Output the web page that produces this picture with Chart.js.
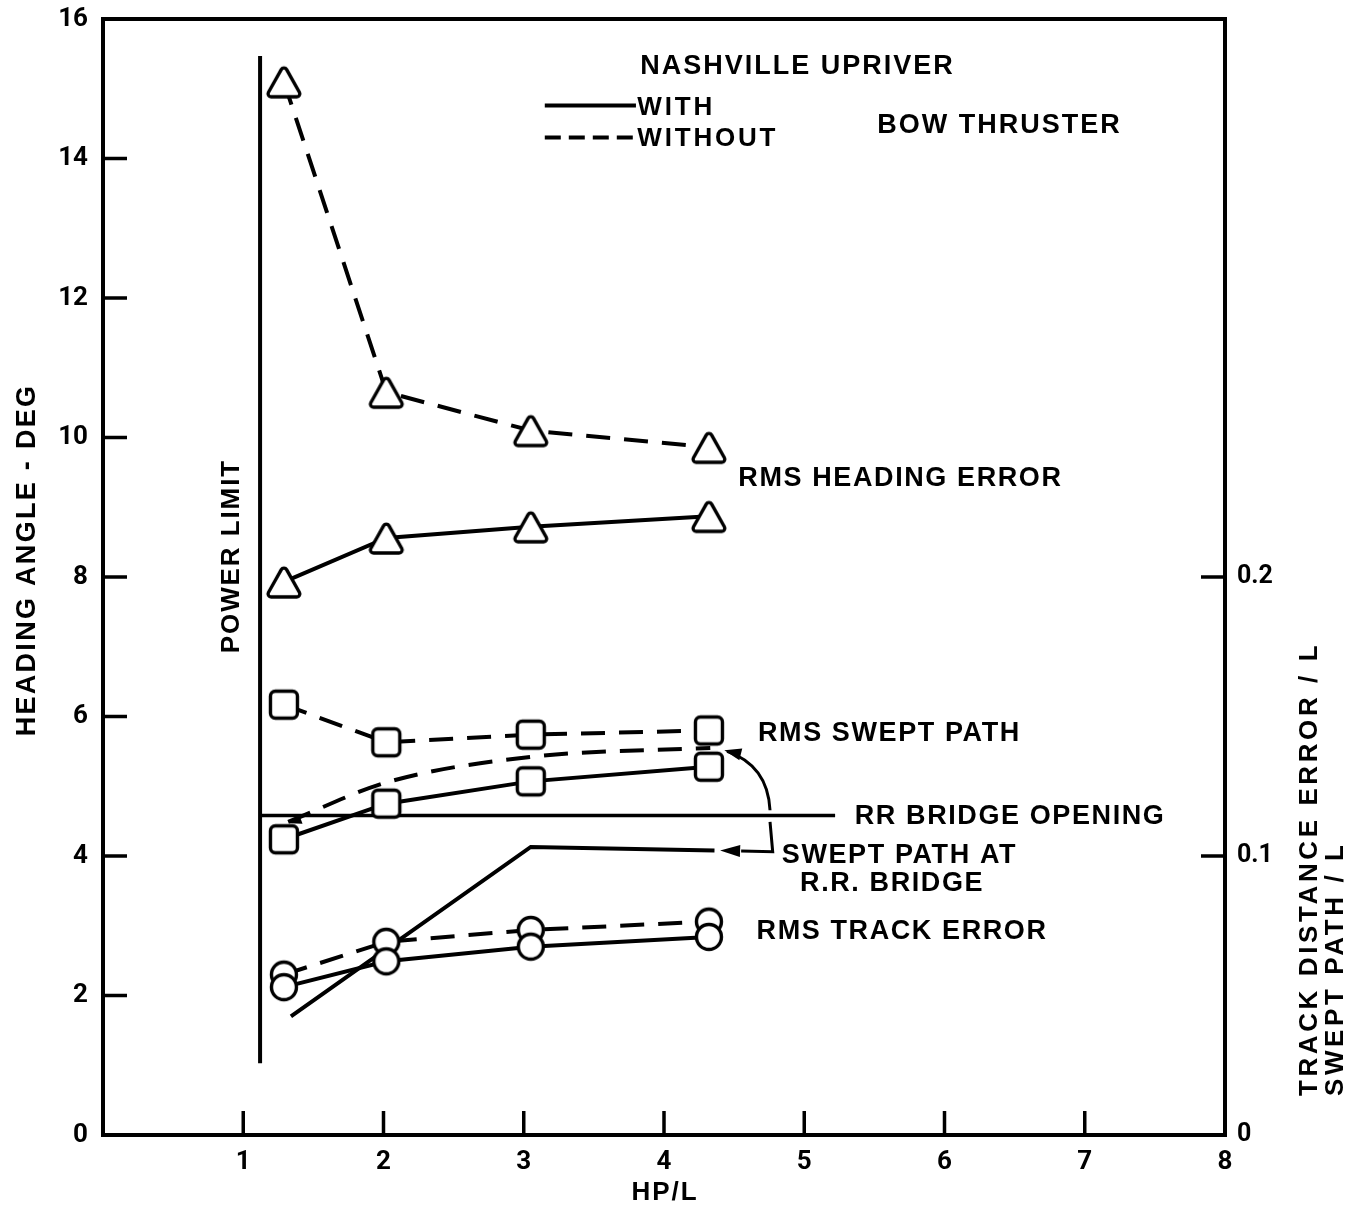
<!DOCTYPE html>
<html>
<head>
<meta charset="utf-8">
<script src="https://cdn.jsdelivr.net/npm/chart.js@4.4.1/dist/chart.umd.min.js"></script>
<style>
  html, body { margin: 0; padding: 0; background: #fff; }
  #wrap { width: 1368px; height: 1212px; }
</style>
</head>
<body>
<div id="wrap"><canvas id="c" width="1368" height="1212"></canvas></div>
<script>
// ---- values (HP/L on x, heading angle in deg on left axis) ----
const hpPerLength      = [1.29, 2.02, 3.05, 4.32];
const headingWith      = [7.93, 8.56, 8.72, 8.87];
const headingWithout   = [15.10, 10.65, 10.10, 9.86];
const sweptWith        = [4.24, 4.75, 5.07, 5.28];
const sweptWithout     = [6.17, 5.63, 5.74, 5.80];
const trackWith        = [2.12, 2.49, 2.70, 2.84];
const trackWithout     = [2.30, 2.77, 2.94, 3.06];
const bridgeWithX      = [1.34, 3.05, 4.36];
const bridgeWith       = [1.70, 4.13, 4.08];
const bridgeWithoutX   = [1.32, 2.03, 3.05, 4.33];
const bridgeWithout    = [4.49, 5.06, 5.42, 5.55];
const bridgeOpeningX   = [1.12, 5.22];
const bridgeOpening    = [4.58, 4.58];
const powerLimitX      = [1.12, 1.12];
const powerLimit       = [1.03, 15.47];

const xTickValues      = [1, 2, 3, 4, 5, 6, 7, 8];
const leftTickValues   = [0, 2, 4, 6, 8, 10, 12, 14, 16];
const rightTickValues  = [0, 0.1, 0.2];

const pts = (xs, ys) => xs.map((x, i) => ({ x, y: ys[i] }));

// ---- hollow markers ----
function roundedPoly(g, p, r) {
  const n = p.length;
  const m = [(p[n - 1][0] + p[0][0]) / 2, (p[n - 1][1] + p[0][1]) / 2];
  g.moveTo(m[0], m[1]);
  for (let i = 0; i < n; i++) {
    const a = p[i], b = p[(i + 1) % n];
    g.arcTo(a[0], a[1], b[0], b[1], r);
  }
  g.closePath();
}
function marker(kind) {
  const s = 44, c = document.createElement('canvas');
  c.width = s; c.height = s;
  const g = c.getContext('2d');
  g.lineWidth = 3.4; g.strokeStyle = '#000'; g.fillStyle = '#fff'; g.lineJoin = 'round';
  g.beginPath();
  if (kind === 'triangle') roundedPoly(g, [[22, 5], [40, 37], [4, 37]], 3);
  else if (kind === 'square') g.roundRect(8.5, 8.5, 27, 27, 5);
  else g.arc(22, 22, 12.5, 0, Math.PI * 2);
  g.fill(); g.stroke();
  return c;
}
const TRI = marker('triangle'), SQR = marker('square'), CIR = marker('circle');

const DASH = [24, 14];
function series(xs, ys, style, dashed, extra) {
  return Object.assign({
    data: pts(xs, ys),
    borderColor: '#000', backgroundColor: '#000', borderWidth: 4,
    borderDash: dashed ? DASH : [],
    pointStyle: style || 'circle',
    pointRadius: style ? 15 : 0,
    pointHoverRadius: style ? 15 : 0,
    tension: 0, fill: false, yAxisID: 'y'
  }, extra || {});
}

// ---- text and leader annotations (data units) ----
const BOLD = (s) => `bold ${s}px "Liberation Sans", Arial, sans-serif`;
const notes = [
  { t: 'NASHVILLE UPRIVER', x: 3.83, y: 15.32, f: BOLD(27), ls: 2 },
  { t: 'WITH',              x: 3.81, y: 14.73, f: BOLD(26), ls: 2.8 },
  { t: 'WITHOUT',           x: 3.81, y: 14.28, f: BOLD(26), ls: 2.8 },
  { t: 'BOW THRUSTER',      x: 5.52, y: 14.47, f: BOLD(27), ls: 2 },
  { t: 'RMS HEADING ERROR', x: 4.53, y: 9.41,  f: BOLD(27), ls: 1.6 },
  { t: 'RMS SWEPT PATH',    x: 4.67, y: 5.76,  f: BOLD(27), ls: 1.6 },
  { t: 'RR BRIDGE OPENING', x: 5.36, y: 4.56,  f: BOLD(27), ls: 1.6 },
  { t: 'SWEPT PATH AT',     x: 4.84, y: 4.01,  f: BOLD(27), ls: 1.6 },
  { t: 'R.R. BRIDGE',       x: 4.97, y: 3.61,  f: BOLD(27), ls: 1.6 },
  { t: 'RMS TRACK ERROR',   x: 4.66, y: 2.91,  f: BOLD(27), ls: 1.6 }
];
const legendKeys = [
  { x0: 3.15, x1: 3.80, y: 14.76, dash: [] },
  { x0: 3.15, x1: 3.80, y: 14.30, dash: [16, 8] }
];

function arrowHead(ctx, tx, ty, fx, fy, len, half) {
  const a = Math.atan2(ty - fy, tx - fx);
  ctx.beginPath();
  ctx.moveTo(tx, ty);
  ctx.lineTo(tx - len * Math.cos(a) + half * Math.sin(a), ty - len * Math.sin(a) - half * Math.cos(a));
  ctx.lineTo(tx - len * Math.cos(a) - half * Math.sin(a), ty - len * Math.sin(a) + half * Math.cos(a));
  ctx.closePath();
  ctx.fill();
}

const decor = {
  id: 'decor',
  afterDatasetsDraw(chart) {
    const { ctx, chartArea: a, scales } = chart;
    const X = (v) => scales.x.getPixelForValue(v);
    const Y = (v) => scales.y.getPixelForValue(v);
    const Y2 = (v) => scales.y2.getPixelForValue(v);
    ctx.save();
    ctx.strokeStyle = '#000'; ctx.fillStyle = '#000';
    ctx.lineCap = 'square';

    // frame
    ctx.lineWidth = 4;
    ctx.strokeRect(a.left, a.top, a.right - a.left, a.bottom - a.top);

    // inward tick marks
    ctx.lineWidth = 3.5; ctx.lineCap = 'butt';
    const TL = 24;
    ctx.beginPath();
    leftTickValues.filter(v => v > 0 && v < 16).forEach(v => { ctx.moveTo(a.left, Y(v)); ctx.lineTo(a.left + TL, Y(v)); });
    xTickValues.filter(v => v < 8).forEach(v => { ctx.moveTo(X(v), a.bottom); ctx.lineTo(X(v), a.bottom - TL); });
    rightTickValues.filter(v => v > 0).forEach(v => { ctx.moveTo(a.right, Y2(v)); ctx.lineTo(a.right - TL, Y2(v)); });
    ctx.stroke();

    // legend keys
    ctx.lineWidth = 4;
    legendKeys.forEach(k => {
      ctx.setLineDash(k.dash);
      ctx.beginPath(); ctx.moveTo(X(k.x0), Y(k.y)); ctx.lineTo(X(k.x1), Y(k.y)); ctx.stroke();
    });
    ctx.setLineDash([]);

    // leader from label to the dashed bridge curve
    ctx.lineWidth = 3;
    ctx.beginPath();
    ctx.moveTo(X(4.756), Y(4.656));
    ctx.quadraticCurveTo(X(4.74), Y(5.30), X(4.45), Y(5.50));
    ctx.stroke();
    arrowHead(ctx, X(4.43), Y(5.515), X(4.52), Y(5.47), 17, 6);
    // bracket leader to the solid bridge line
    ctx.beginPath();
    ctx.moveTo(X(4.756), Y(4.49));
    ctx.lineTo(X(4.775), Y(4.06));
    ctx.lineTo(X(4.55), Y(4.07));
    ctx.stroke();
    arrowHead(ctx, X(4.40), Y(4.08), X(4.55), Y(4.07), 20, 6);
    // small head at the start of the dashed bridge curve
    arrowHead(ctx, X(1.33), Y(4.47), X(1.45), Y(4.56), 12, 5);

    // annotations
    ctx.textBaseline = 'middle'; ctx.textAlign = 'left';
    notes.forEach(n => {
      ctx.font = n.f; ctx.letterSpacing = n.ls + 'px';
      ctx.fillText(n.t, X(n.x), Y(n.y));
    });

    // rotated labels
    const rot = (t, cx, cy, f, ls, align) => {
      ctx.save();
      ctx.translate(cx, cy); ctx.rotate(-Math.PI / 2);
      ctx.font = f; ctx.letterSpacing = ls + 'px'; ctx.textAlign = align || 'center';
      ctx.fillText(t, 0, 0);
      ctx.restore();
    };
    rot('POWER LIMIT', X(0.92), Y(8.3), BOLD(26), 1.9);
    rot('HEADING ANGLE - DEG', 28, 560, BOLD(27), 2.3);
    rot('TRACK DISTANCE ERROR / L', 1310, 1096, BOLD(26), 3.6, 'left');
    rot('SWEPT PATH / L', 1336, 1096, BOLD(26), 3.6, 'left');

    ctx.font = BOLD(26); ctx.letterSpacing = '2px'; ctx.textAlign = 'center';
    ctx.fillText('HP/L', (a.left + a.right) / 2 + 1, 1193);
    ctx.restore();
  }
};

const TICK_FONT = { family: 'Roboto, "Liberation Sans", sans-serif', weight: 'bold', size: 26 };
// keep the plot box fixed: no extra room reserved for overhanging tick labels
const noOverhang = (s) => { s.paddingTop = 0; s.paddingBottom = 0; s.paddingLeft = 0; s.paddingRight = 0; };

new Chart(document.getElementById('c'), {
  type: 'line',
  data: {
    datasets: [
      series(hpPerLength, headingWith, TRI, false),
      series(hpPerLength, headingWithout, TRI, true),
      series(hpPerLength, sweptWith, SQR, false),
      series(hpPerLength, sweptWithout, SQR, true),
      series(hpPerLength, trackWith, CIR, false),
      series(hpPerLength, trackWithout, CIR, true),
      series(bridgeWithX, bridgeWith, null, false),
      series(bridgeWithoutX, bridgeWithout, null, true, { cubicInterpolationMode: 'monotone' }),
      series(bridgeOpeningX, bridgeOpening, null, false, { borderWidth: 3.5 }),
      series(powerLimitX, powerLimit, null, false)
    ]
  },
  options: {
    responsive: false,
    animation: false,
    devicePixelRatio: 1,
    layout: { padding: { top: 18, left: 0, right: 0, bottom: 0 } },
    plugins: { legend: { display: false }, tooltip: { enabled: false } },
    scales: {
      x: {
        type: 'linear', position: 'bottom', min: 0, max: 8,
        afterBuildTicks: (s) => { s.ticks = xTickValues.map(v => ({ value: v })); },
        afterFit: (s) => { s.height = 1212 - 1135; noOverhang(s); },
        grid: { display: false, drawTicks: false },
        border: { display: false },
        ticks: { font: TICK_FONT, color: '#000', padding: 12, maxRotation: 0 }
      },
      y: {
        type: 'linear', position: 'left', min: 0, max: 16,
        afterBuildTicks: (s) => { s.ticks = leftTickValues.map(v => ({ value: v })); },
        afterFit: (s) => { s.width = 103; noOverhang(s); },
        grid: { display: false, drawTicks: false },
        border: { display: false },
        ticks: { font: TICK_FONT, color: '#000', padding: 15 }
      },
      y2: {
        type: 'linear', position: 'right', min: 0, max: 0.4,
        afterBuildTicks: (s) => { s.ticks = rightTickValues.map(v => ({ value: v })); },
        afterFit: (s) => { s.width = 1368 - 1225; noOverhang(s); },
        grid: { display: false, drawTicks: false },
        border: { display: false },
        ticks: { font: { family: 'Roboto, "Liberation Sans", sans-serif', weight: 'bold', size: 25 }, color: '#000', padding: 12,
                 callback: (v) => String(v) }
      }
    }
  },
  plugins: [decor]
});
</script>
</body>
</html>
